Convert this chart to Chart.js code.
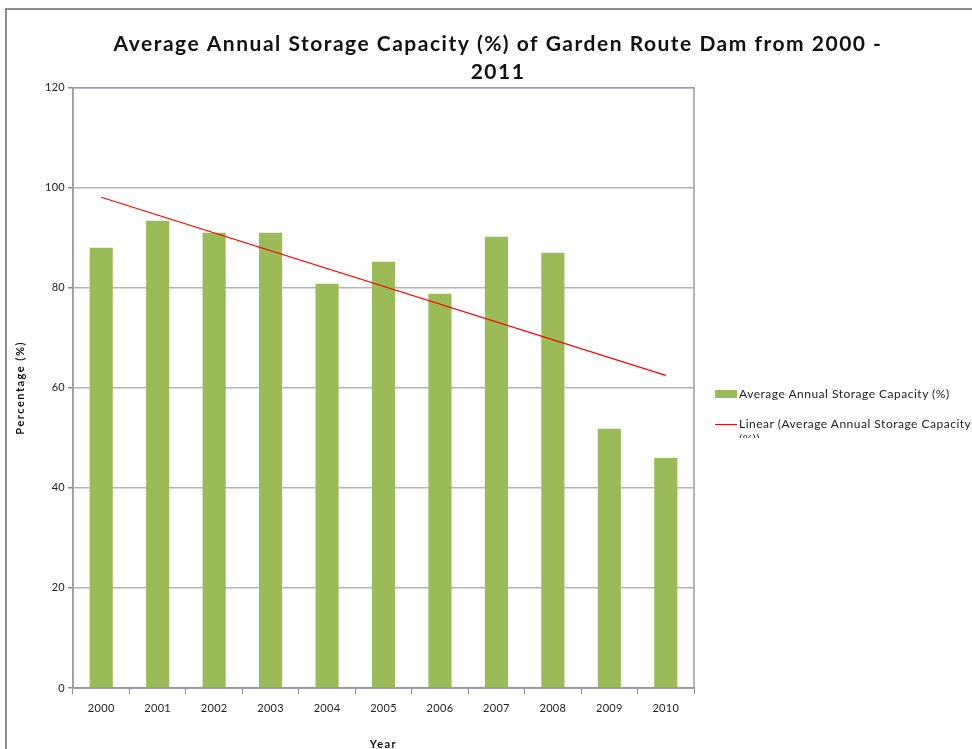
<!DOCTYPE html>
<html>
<head>
<meta charset="utf-8">
<script src="https://cdn.jsdelivr.net/npm/chart.js@4.4.1/dist/chart.umd.min.js"></script>
<style>
  html, body { margin: 0; padding: 0; background: #fff; overflow: hidden; }
  #frame {
    position: absolute; left: 5px; top: 8px; width: 990px; height: 760px;
    border-left: 2px solid #8c8c8c; border-top: 2px solid #8c8c8c;
  }
  #wrap { position: absolute; left: 0; top: 0; width: 982px; height: 741px; }
  #legend {
    position: absolute; left: 715px; top: 386px; width: 260px;
    font-family: Lato, "Open Sans", sans-serif; font-size: 12px; color: #222;
    letter-spacing: 0.5px;
  }
  .item { position: relative; height: 30px; white-space: nowrap; }
  .item .sw { position: absolute; left: 0; }
  .item .tx { position: absolute; left: 24px; top: 0; line-height: 15px; }
  .clip { height: 22px; overflow: hidden; white-space: normal; width: 240px; }
</style>
</head>
<body>
<div id="frame">
  <div id="wrap"><canvas id="myChart"></canvas></div>
</div>
<div id="legend">
  <div class="item">
    <span class="sw" style="top:4px;width:22px;height:8px;background:#9BBB59"></span>
    <span class="tx">Average Annual Storage Capacity (%)</span>
  </div>
  <div class="item">
    <span class="sw" style="top:8px;width:22px;height:1px;background:#ff0000"></span>
    <span class="tx clip">Linear (Average Annual Storage Capacity (%))</span>
  </div>
</div>
<script>
var years = ["2000", "2001", "2002", "2003", "2004", "2005", "2006", "2007", "2008", "2009", "2010"];
var capacity = [88, 93.4, 91, 91, 80.8, 85.2, 78.8, 90.2, 87, 51.8, 46];
// trend line end points (2000 and 2010)
var trend = [98.1, null, null, null, null, null, null, null, null, null, 62.5];
var yTicks = [0, 20, 40, 60, 80, 100, 120];

var font = "Lato, 'Open Sans', sans-serif";

// wider letter spacing for the titles, a little for the rest
function spaced(obj, name) {
  if (!obj || obj["_sp_" + name]) return;
  var orig = obj[name];
  obj[name] = function () {
    var c = this.ctx;
    c.letterSpacing = "1.5px";
    orig.apply(this, arguments);
    c.letterSpacing = "0.3px";
  };
  obj["_sp_" + name] = true;
}

var framePlugin = {
  id: "frame",
  beforeUpdate: function (chart) { chart.ctx.letterSpacing = "0.3px"; },
  afterUpdate: function (chart) {
    spaced(chart.titleBlock, "draw");
    spaced(chart.scales.x, "drawTitle");
    spaced(chart.scales.y, "drawTitle");
  },
  beforeDraw: function (chart) { chart.ctx.letterSpacing = "0.3px"; },
  afterDatasetsDraw: function (chart) {
    var a = chart.chartArea, c = chart.ctx;
    c.save();
    c.strokeStyle = "#9a9ab0";
    c.lineWidth = 1.5;
    c.strokeRect(a.left, a.top, a.right - a.left, a.bottom - a.top);
    c.restore();
  }
};

var ctx = document.getElementById("myChart").getContext("2d");
var chart = new Chart(ctx, {
  type: "bar",
  data: {
    labels: years,
    datasets: [
      {
        type: "line",
        label: "Linear (Average Annual Storage Capacity (%))",
        data: trend,
        borderColor: "#ff0000",
        borderWidth: 1.2,
        pointRadius: 0,
        spanGaps: true,
        fill: false,
        order: 0
      },
      {
        label: "Average Annual Storage Capacity (%)",
        data: capacity,
        backgroundColor: "#9BBB59",
        categoryPercentage: 1,
        barPercentage: 0.41,
        order: 1
      }
    ]
  },
  options: {
    responsive: true,
    maintainAspectRatio: false,
    animation: false,
    layout: { padding: 0 },
    plugins: {
      legend: { display: false },
      tooltip: { enabled: false },
      title: {
        display: true,
        text: ["Average Annual Storage Capacity (%) of Garden Route Dam from 2000 -", "2011"],
        color: "#111",
        font: { family: font, size: 21, weight: "bold", lineHeight: 1.35 },
        padding: { top: 20, bottom: 1 }
      }
    },
    scales: {
      x: {
        afterFit: function (s) { s.height = 63; },
        grid: { offset: true, drawOnChartArea: false, tickLength: 6, color: "#8c8c8c" },
        border: { color: "#8c8c8c", width: 1.5 },
        ticks: { color: "#222", font: { family: font, size: 11 }, padding: 8 },
        title: { display: true, text: "Year", color: "#111", font: { family: font, size: 11, weight: "bold" }, padding: { top: 12, bottom: 0 } }
      },
      y: {
        min: 0,
        max: 120,
        afterFit: function (s) { s.width = 66; },
        afterBuildTicks: function (s) { s.ticks = yTicks.map(function (v) { return { value: v }; }); },
        grid: { color: "#b4b4b4", lineWidth: 1.5, tickLength: 5, tickColor: "#8c8c8c" },
        border: { color: "#9a9ab0", width: 1.5 },
        ticks: { color: "#222", font: { family: font, size: 11 }, padding: 3 },
        title: { display: true, text: "Percentage (%)", color: "#111", font: { family: font, size: 11, weight: "bold" }, padding: { top: 7, bottom: 0 } }
      },
      // empty box on the right that keeps room for the legend
      side: {
        type: "linear",
        position: "right",
        display: true,
        afterFit: function (s) { s.width = 295; },
        grid: { drawOnChartArea: false, drawTicks: false },
        border: { display: false },
        ticks: { display: false }
      }
    }
  },
  plugins: [framePlugin]
});
</script>
</body>
</html>
